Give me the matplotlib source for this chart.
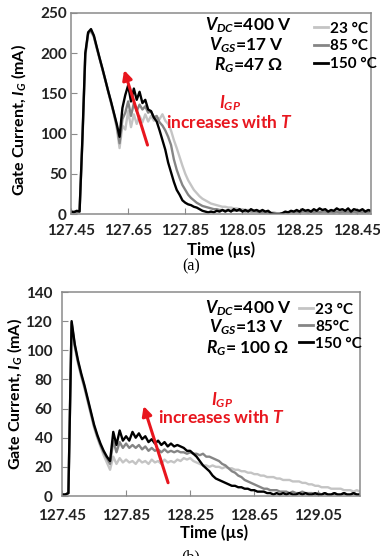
import numpy as np
import matplotlib
matplotlib.use("Agg")
import matplotlib.pyplot as plt

plt.rcParams['font.family'] = ['Lato', 'DejaVu Sans']
plt.rcParams['font.weight'] = 'bold'
plt.rcParams['mathtext.fontset'] = 'custom'
plt.rcParams['mathtext.it'] = 'Lato:italic:bold'
plt.rcParams['mathtext.rm'] = 'Lato:bold'
plt.rcParams['mathtext.bf'] = 'Lato:bold'

# ---------------- Panel (a) data: sampled every 0.01 us ----------------
t_a = np.round(np.arange(127.45, 128.505, 0.01), 2)
ig_a_150 = [3, 2, 4, 3, 95, 200, 226, 230, 222, 208, 194, 181, 167, 153, 140, 126, 112, 96,
            132, 148, 160, 140, 156, 142, 152, 138, 142, 130, 128, 120, 115, 104, 92, 80, 64,
            52, 40, 30, 24, 17, 14, 12, 11, 9, 8, 6, 4, 3, 2, 3, 2, 4, 3, 5, 3,
            5, 3, 6, 4, 6, 3, 5, 3, 6, 4, 5, 3, 5, 3, 4, 1, 0, 0, 0, 1, 3,
            2, 4, 3, 5, 3, 6, 4, 5, 3, 6, 4, 7, 5, 6, 3, 5, 4, 7, 5, 6, 4, 7, 3, 6, 5, 4, 6, 3, 5, 4]
ig_a_85 = [3, 3, 2, 4, 92, 198, 225, 228, 221, 207, 194, 180, 167, 153, 139, 125, 110, 88,
           118, 126, 140, 122, 138, 128, 136, 130, 134, 126, 128, 120, 122, 114, 110, 104, 96,
           86, 68, 55, 45, 36, 30, 24, 20, 17, 14, 12, 10, 9, 8, 7, 6, 6, 5, 5, 4,
           5, 4, 4, 5, 4, 4, 3, 4, 3, 3, 3, 2, 2, 2, 2, 1, 1, 0, 0, 1, 2,
           2, 3, 2, 3, 2, 3, 3, 2, 3, 2, 3, 2, 3, 3, 2, 3, 2, 3, 2, 3, 2, 3, 2, 3, 2, 3, 2, 3, 2, 3]
ig_a_23 = [2, 3, 3, 3, 90, 196, 224, 227, 220, 206, 193, 180, 166, 152, 138, 124, 107, 82,
           110, 105, 128, 108, 124, 112, 122, 114, 124, 115, 122, 116, 120, 118, 124, 116, 112,
           104, 92, 82, 71, 60, 50, 42, 36, 30, 26, 22, 19, 17, 15, 13, 12, 11, 10, 9, 9,
           8, 8, 7, 7, 6, 6, 5, 5, 5, 4, 4, 4, 3, 3, 3, 2, 2, 1, 1, 1, 2,
           2, 2, 3, 2, 2, 3, 2, 2, 3, 2, 2, 3, 2, 2, 3, 2, 2, 3, 2, 2, 3, 2, 2, 3, 2, 2, 3, 2, 2, 3]

# ---------------- Panel (b) data: sampled every 0.02 us ----------------
t_b = np.round(np.arange(127.45, 129.315, 0.02), 2)
ig_b_150 = [1, 1, 2, 120, 104, 93, 84, 76, 67, 58, 49, 42, 36, 31, 27, 24,
            44, 35, 45, 38, 41, 38, 44, 40, 43, 39, 41, 37, 39, 36, 38, 35, 37, 34, 36, 34, 35, 34, 33,
            31, 31, 29, 27, 24, 21, 19, 17, 14, 12, 11, 10, 9, 8, 7, 7, 6, 6, 5, 5, 4, 4, 3, 3, 3,
            2, 2, 1, 2, 1, 2, 1, 2, 1, 1, 2, 1, 2, 1, 1, 2, 1, 1, 2, 1, 1, 2, 1, 1, 2, 1, 1, 2, 1, 1]
ig_b_85 = [1, 1, 2, 119, 103, 92, 83, 75, 66, 57, 48, 41, 35, 30, 26, 22,
           38, 30, 37, 33, 36, 33, 35, 33, 35, 32, 34, 31, 33, 31, 32, 30, 32, 30, 31, 30, 31, 30, 30,
           29, 30, 29, 29, 28, 29, 27, 27, 26, 25, 24, 22, 21, 19, 17, 16, 14, 13, 11, 10, 9, 8, 7, 6, 5,
           5, 4, 4, 4, 3, 3, 3, 2, 3, 2, 2, 3, 2, 2, 2, 1, 2, 1, 2, 1, 1, 2, 1, 1, 2, 1, 1, 2, 1, 1]
ig_b_23 = [1, 1, 2, 118, 102, 91, 82, 74, 65, 56, 47, 40, 34, 28, 23, 18,
           27, 22, 26, 23, 25, 23, 24, 22, 25, 23, 24, 22, 25, 23, 24, 22, 25, 23, 24, 23, 25, 24, 26,
           25, 26, 24, 23, 22, 21, 21, 20, 21, 20, 20, 19, 20, 19, 19, 18, 18, 17, 17, 16, 16, 15, 15, 14, 14,
           13, 13, 13, 12, 12, 11, 11, 11, 10, 10, 10, 9, 9, 8, 8, 7, 7, 6, 6, 6, 5, 5, 5, 5, 4, 4, 4, 3, 4, 3]

xticks_a = [127.45, 127.65, 127.85, 128.05, 128.25, 128.45]
yticks_a = [0, 50, 100, 150, 200, 250]
xticks_b = [127.45, 127.85, 128.25, 128.65, 129.05]
yticks_b = [0, 20, 40, 60, 80, 100, 120, 140]
series_labels = ['23 °C', '85 °C', '150 °C']
series_labels_b = ['23 °C', '85°C', '150 °C']
colors = ['#c4c4c4', '#858585', '#000000']

RED = '#e8161e'
W, H = 380, 556
fig = plt.figure(figsize=(W / 100, H / 100), dpi=100)


def px_axes(l, t, r, b):
    return fig.add_axes([l / W, 1 - b / H, (r - l) / W, (b - t) / H])


def style(ax, xt, yt, xlim, ylim, xpad, ypad):
    ax.set_xlim(*xlim)
    ax.set_ylim(*ylim)
    ax.set_xticks(xt)
    ax.set_xticklabels([f'{v:.2f}' for v in xt])
    ax.set_yticks(yt)
    for s in ax.spines.values():
        s.set_color('#8a8a8a')
        s.set_linewidth(1.1)
    ax.tick_params(axis='both', direction='in', length=4, color='#8a8a8a',
                   labelsize=11, top=False, right=False)
    ax.tick_params(axis='x', pad=xpad)
    ax.tick_params(axis='y', pad=ypad)
    for lab in ax.get_xticklabels() + ax.get_yticklabels():
        lab.set_fontweight('bold')
        lab.set_color('#222222')


# ---------------- Panel (a) ----------------
axa = px_axes(71, 13, 371, 214)
for y, c, lab in zip([ig_a_23, ig_a_85, ig_a_150], colors, series_labels):
    axa.plot(t_a, y, color=c, lw=1.7, label=lab)
style(axa, xticks_a, yticks_a, (127.45, 128.50), (0, 250), 7, 3)
axa.set_ylabel(r'Gate Current, $I_G$ (mA)', fontsize=11.5, fontweight='bold')
axa.yaxis.set_label_coords(-0.143, 0.47)
axa.set_xlabel('Time (µs)', fontsize=12, fontweight='bold')
axa.xaxis.set_label_coords(0.5, -0.135)
leg = axa.legend(loc='upper left', bbox_to_anchor=(0.785, 0.995), frameon=False,
                 handlelength=0.9, handletextpad=0.15, labelspacing=0.25,
                 borderpad=0, prop={'weight': 'bold', 'size': 11})
for line in leg.get_lines():
    line.set_linewidth(2)
kw = dict(transform=axa.transAxes, ha='center', va='center', fontsize=12.5, fontweight='bold')
axa.text(0.59, 0.94, r'$V_{DC}$=400 V', **kw)
axa.text(0.585, 0.84, r'$V_{GS}$=17 V', **kw)
axa.text(0.59, 0.74, r'$R_G$=47 Ω', **kw)
axa.text(0.53, 0.55, r'$I_{GP}$', color=RED, **kw)
axa.text(0.53, 0.455, r'increases with $T$', color=RED, **kw)
axa.annotate('', xy=(0.177, 0.716), xytext=(0.255, 0.343), xycoords='axes fraction',
             arrowprops=dict(arrowstyle='-|>', color=RED, lw=2.2, mutation_scale=14,
                             shrinkA=0, shrinkB=0))
fig.text(191 / W, 1 - 266 / H, '(a)', ha='center', va='center', fontsize=11.5,
         family='Liberation Serif', fontweight='normal')

# ---------------- Panel (b) ----------------
axb = px_axes(62, 292, 360, 496)
for y, c, lab in zip([ig_b_23, ig_b_85, ig_b_150], colors, series_labels_b):
    axb.plot(t_b, y, color=c, lw=1.7, label=lab)
style(axb, xticks_b, yticks_b, (127.45, 129.31), (0, 140), 9, 7)
axb.set_ylabel(r'Gate Current, $I_G$ (mA)', fontsize=11.5, fontweight='bold')
axb.yaxis.set_label_coords(-0.128, 0.5)
axb.set_xlabel('Time (µs)', fontsize=12, fontweight='bold')
axb.xaxis.set_label_coords(0.51, -0.14)
leg = axb.legend(loc='upper left', bbox_to_anchor=(0.77, 0.985), frameon=False,
                 handlelength=0.9, handletextpad=0.15, labelspacing=0.2,
                 borderpad=0, prop={'weight': 'bold', 'size': 11})
for line in leg.get_lines():
    line.set_linewidth(2)
kw = dict(transform=axb.transAxes, ha='center', va='center', fontsize=12.5, fontweight='bold')
axb.text(0.624, 0.92, r'$V_{DC}$=400 V', **kw)
axb.text(0.62, 0.828, r'$V_{GS}$=13 V', **kw)
axb.text(0.624, 0.725, r'$R_G$= 100 Ω', **kw)
axb.text(0.537, 0.47, r'$I_{GP}$', color=RED, **kw)
axb.text(0.537, 0.385, r'increases with $T$', color=RED, **kw)
axb.annotate('', xy=(0.274, 0.441), xytext=(0.356, 0.065), xycoords='axes fraction',
             arrowprops=dict(arrowstyle='-|>', color=RED, lw=2.2, mutation_scale=14,
                             shrinkA=0, shrinkB=0))
fig.text(191 / W, 1 - 549 / H, '(b)', ha='center', va='top', fontsize=11.5,
         family='Liberation Serif', fontweight='normal')

fig.savefig('out.png', dpi=100)
